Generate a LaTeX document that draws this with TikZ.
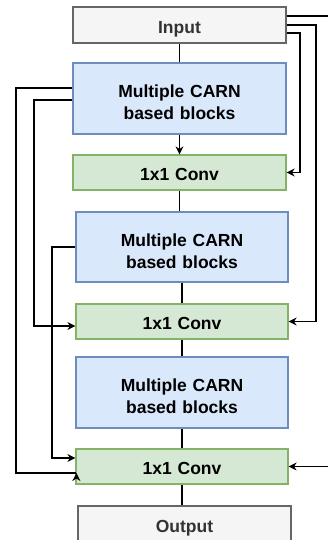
\documentclass[tikz,border=0pt]{standalone}
\usepackage{fontspec}
\setmainfont{Liberation Sans}
\usetikzlibrary{arrows.meta}
\definecolor{grayfill}{HTML}{F5F5F5}
\definecolor{graydraw}{HTML}{666666}
\definecolor{graytext}{HTML}{333333}
\definecolor{bluefill}{HTML}{DAE8FC}
\definecolor{bluedraw}{HTML}{6C8EBF}
\definecolor{greenfill}{HTML}{D5E8D4}
\definecolor{greendraw}{HTML}{82B366}
\newcommand{\toppad}{\rule{0pt}{20.7pt}}
\tikzset{
  box/.style={inner sep=0pt, line width=1.2pt, align=center,
    font=\fontsize{17.5}{22}\selectfont\bfseries, text width=200pt},
  oneline/.style={text height=16.5pt, text depth=0pt},
  iobox/.style={box, oneline, fill=grayfill, draw=graydraw, text=graytext, minimum width=213pt, minimum height=36pt},
  bluebox/.style={box, fill=bluefill, draw=bluedraw, minimum width=212pt, minimum height=71pt},
  greenbox/.style={box, oneline, fill=greenfill, draw=greendraw, minimum width=212pt, minimum height=35pt},
  link/.style={line width=1.5pt, black},
  arr/.style={link, -{Stealth[length=8pt,width=8pt,inset=2.5pt]}}
}
\begin{document}
\begin{tikzpicture}[x=1pt,y=-1pt]
\useasboundingbox (0,0) rectangle (328,540);
\node[iobox] (in) at (179.5,25) {Input};
\node[bluebox, minimum width=213pt] (b1) at (179.5,98.5) {\toppad Multiple CARN\\based blocks};
\node[greenbox, minimum width=213pt] (c1) at (179.5,172.5) {1x1 Conv};
\node[bluebox, minimum height=70pt] (b2) at (182,247) {\toppad Multiple CARN\\based blocks};
\node[greenbox] (c2) at (182,321.5) {1x1 Conv};
\node[bluebox] (b3) at (182,392.5) {\toppad Multiple CARN\\based blocks};
\node[greenbox] (c3) at (182,466.5) {1x1 Conv};
\node[iobox] (out) at (184.5,524) {Output};
% main chain
\draw[link] (in.south) -- (b1.north);
\draw[arr] (b1.south) -- (c1.north);
\draw[link] (c1.south) -- (c1.south|-b2.north);
\draw[link] (b2.south) -- (c2.north);
\draw[link] (c2.south) -- (b3.north);
\draw[link] (b3.south) -- (c3.north);
\draw[link] (c3.south) -- (c3.south|-out.north);
% right skips from input
\coordinate (r1) at (300,0);
\coordinate (r2) at (316,0);
\coordinate (r3) at (336,0);
\draw[arr] ([yshift=-8pt]in.east) -| (r1|-c1.east) -- (c1.east);
\draw[arr] ([yshift=0pt]in.east) -| (r2|-c2.east) -- (c2.east);
\draw[arr] ([yshift=9pt]in.east) -| (r3|-c3.east) -- (c3.east);
% left skips
\coordinate (l1) at (16,0);
\coordinate (l2) at (34,0);
\coordinate (l3) at (52,0);
\coordinate (cc) at ([xshift=1pt,yshift=-6.5pt]c3.west);
\draw[link] ([yshift=10.5pt]b1.west) -| (l1|-cc) -- (cc);
\draw[arr] ([yshift=-5pt]cc) -- (cc);
\draw[arr] ([yshift=-1.5pt]b1.west) -| ([yshift=-4.5pt]l2|-c2.west) -- ([yshift=-4.5pt]c2.west);
\draw[arr] (b2.west) -| ([yshift=8.5pt]l3|-c3.west) -- ([yshift=8.5pt]c3.west);
\end{tikzpicture}
\end{document}
